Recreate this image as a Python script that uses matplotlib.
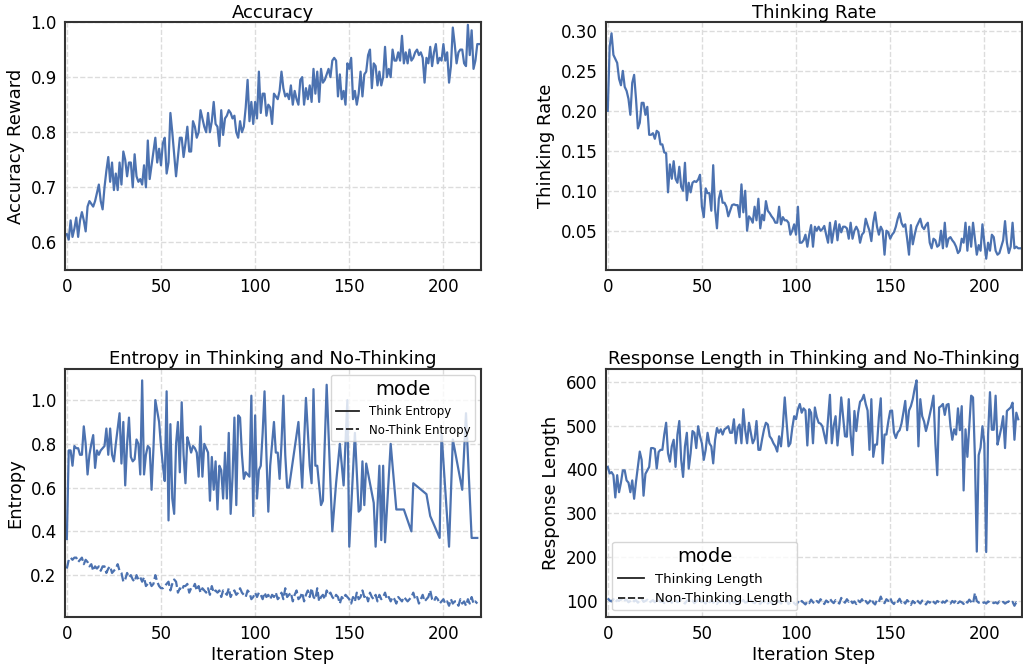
import numpy as np
import matplotlib.pyplot as plt
from matplotlib.lines import Line2D

# ---- data ----
accuracy = [
    0.615, 0.605, 0.64, 0.61, 0.625, 0.645, 0.61, 0.64, 0.655, 0.64,
    0.62, 0.665, 0.675, 0.67, 0.665, 0.675, 0.69, 0.705, 0.675, 0.66,
    0.70, 0.73, 0.755, 0.71, 0.745, 0.695, 0.725, 0.695, 0.745, 0.705,
    0.765, 0.75, 0.72, 0.745, 0.745, 0.70, 0.76, 0.72, 0.71, 0.715,
    0.705, 0.74, 0.70, 0.785, 0.715, 0.74, 0.765, 0.79, 0.745, 0.77,
    0.74, 0.78, 0.79, 0.725, 0.745, 0.835, 0.80, 0.76, 0.72, 0.755,
    0.79, 0.79, 0.755, 0.78, 0.81, 0.765, 0.765, 0.82, 0.81, 0.79,
    0.80, 0.84, 0.825, 0.81, 0.80, 0.835, 0.80, 0.82, 0.855, 0.815,
    0.81, 0.775, 0.84, 0.795, 0.825, 0.83, 0.84, 0.835, 0.825, 0.83,
    0.80, 0.79, 0.82, 0.80, 0.81, 0.845, 0.895, 0.82, 0.855, 0.815,
    0.855, 0.825, 0.91, 0.835, 0.87, 0.87, 0.83, 0.85, 0.845, 0.815,
    0.87, 0.865, 0.86, 0.875, 0.91, 0.88, 0.865, 0.87, 0.86, 0.885,
    0.85, 0.875, 0.86, 0.85, 0.895, 0.90, 0.85, 0.88, 0.86, 0.885,
    0.855, 0.915, 0.87, 0.91, 0.855, 0.915, 0.89, 0.895, 0.905, 0.915,
    0.90, 0.93, 0.935, 0.93, 0.865, 0.905, 0.86, 0.875, 0.85, 0.925,
    0.915, 0.935, 0.86, 0.875, 0.85, 0.87, 0.91, 0.865, 0.905, 0.91,
    0.94, 0.95, 0.88, 0.925, 0.92, 0.885, 0.91, 0.885, 0.90, 0.955,
    0.90, 0.915, 0.90, 0.95, 0.93, 0.93, 0.945, 0.93, 0.975, 0.925,
    0.945, 0.925, 0.95, 0.93, 0.935, 0.945, 0.95, 0.94, 0.945, 0.935,
    0.89, 0.935, 0.925, 0.955, 0.92, 0.945, 0.96, 0.925, 0.935, 0.93,
    0.96, 0.93, 0.945, 0.89, 0.92, 0.99, 0.96, 0.925, 0.945, 0.95,
    0.95, 0.925, 0.92, 0.995, 0.94, 0.985, 0.915, 0.93, 0.96, 0.96,
]

thinking_rate = [
    0.20, 0.28, 0.297, 0.27, 0.265, 0.26, 0.24, 0.232, 0.25, 0.23,
    0.225, 0.215, 0.195, 0.235, 0.245, 0.215, 0.178, 0.185, 0.21, 0.21,
    0.195, 0.205, 0.17, 0.17, 0.172, 0.165, 0.175, 0.173, 0.158, 0.158,
    0.148, 0.147, 0.098, 0.133, 0.115, 0.137, 0.115, 0.11, 0.13, 0.105,
    0.10, 0.135, 0.088, 0.11, 0.098, 0.11, 0.112, 0.111, 0.114, 0.12,
    0.08, 0.067, 0.103, 0.097, 0.097, 0.075, 0.132, 0.077, 0.053, 0.09,
    0.10, 0.085, 0.085, 0.08, 0.068, 0.075, 0.082, 0.083, 0.082, 0.082,
    0.067, 0.108, 0.073, 0.10, 0.05, 0.068, 0.065, 0.06, 0.08, 0.063,
    0.09, 0.053, 0.07, 0.063, 0.087, 0.075, 0.072, 0.068, 0.065, 0.06,
    0.06, 0.08, 0.058, 0.067, 0.063, 0.063, 0.06, 0.045, 0.05, 0.058,
    0.045, 0.08, 0.035, 0.035, 0.038, 0.045, 0.03, 0.045, 0.057, 0.03,
    0.055, 0.05, 0.055, 0.05, 0.052, 0.056, 0.045, 0.035, 0.06, 0.035,
    0.05, 0.062, 0.038, 0.058, 0.048, 0.055, 0.055, 0.053, 0.04, 0.06,
    0.04, 0.05, 0.055, 0.05, 0.035, 0.045, 0.048, 0.065, 0.057, 0.05,
    0.037, 0.06, 0.073, 0.055, 0.045, 0.055, 0.05, 0.02, 0.05, 0.048,
    0.04, 0.045, 0.048, 0.055, 0.065, 0.072, 0.06, 0.055, 0.058, 0.04,
    0.02, 0.057, 0.033, 0.045, 0.055, 0.06, 0.065, 0.055, 0.052, 0.057,
    0.06, 0.035, 0.028, 0.04, 0.038, 0.03, 0.032, 0.05, 0.028, 0.06,
    0.03, 0.04, 0.042, 0.038, 0.035, 0.03, 0.022, 0.025, 0.04, 0.035,
    0.06, 0.025, 0.055, 0.03, 0.06, 0.04, 0.02, 0.032, 0.025, 0.058,
    0.035, 0.015, 0.035, 0.025, 0.045, 0.042, 0.025, 0.02, 0.022, 0.03,
    0.038, 0.062, 0.035, 0.022, 0.03, 0.06, 0.028, 0.03, 0.028, 0.028,
]

# thinking entropy: dense until step 118, then only some steps logged
think_entropy_steps = list(range(118)) + [
    118, 123, 125, 127, 129, 130, 131, 132, 133, 135, 136, 138, 141, 143,
    145, 147, 149, 150, 153, 155, 156, 157, 158, 159, 163, 164, 166, 167,
    168, 169, 172, 175, 179, 183, 184, 191, 193, 198, 199, 203, 205, 210,
    212, 215, 218,
]
think_entropy = [
    0.365, 0.77, 0.77, 0.70, 0.79, 0.78, 0.78, 0.75, 0.75, 0.88,
    0.80, 0.66, 0.75, 0.80, 0.84, 0.69, 0.77, 0.75, 0.77, 0.78,
    0.79, 0.87, 0.75, 0.87, 0.75, 0.72, 0.80, 0.87, 0.94, 0.71,
    0.90, 0.61, 0.80, 0.92, 0.74, 0.72, 0.73, 0.82, 0.80, 0.66,
    1.09, 0.66, 0.75, 0.79, 0.78, 0.59, 0.78, 1.00, 0.95, 0.90,
    0.79, 0.70, 0.63, 1.04, 0.45, 0.89, 0.55, 0.48, 0.80, 0.90,
    0.67, 0.99, 0.75, 0.62, 0.83, 0.80, 0.76, 0.79, 0.78, 0.76,
    0.65, 0.88, 0.65, 0.80, 0.78, 0.76, 0.54, 0.74, 0.59, 0.72,
    0.50, 0.70, 0.68, 0.55, 0.76, 0.55, 0.85, 0.48, 0.65, 0.92,
    0.52, 0.93, 0.92, 0.75, 0.64, 0.67, 0.66, 0.65, 1.02, 0.47,
    0.93, 0.55, 0.68, 0.70, 0.85, 1.04, 0.75, 0.49, 0.70, 0.80,
    0.90, 0.76, 0.76, 0.64, 0.80, 1.02, 0.75, 0.60,
    0.60, 0.90, 0.60, 1.01, 0.70, 0.62, 1.05, 0.70, 0.70, 0.52, 0.54,
    1.07, 0.40, 0.62, 0.80, 0.61, 1.00, 0.33, 0.85, 0.49, 0.50, 0.72,
    0.52, 0.71, 0.53, 0.33, 0.70, 0.36, 0.70, 0.35, 0.80, 0.50, 0.50,
    0.40, 0.62, 0.57, 0.47, 0.37, 0.85, 0.33, 0.82, 0.59, 0.94, 0.37,
    0.37,
]

no_think_entropy = [
    0.23, 0.27, 0.28, 0.27, 0.28, 0.28, 0.26, 0.27, 0.28, 0.25,
    0.27, 0.26, 0.24, 0.25, 0.22, 0.24, 0.23, 0.24, 0.22, 0.24,
    0.24, 0.21, 0.23, 0.24, 0.21, 0.22, 0.23, 0.25, 0.22, 0.21,
    0.17, 0.18, 0.21, 0.19, 0.20, 0.18, 0.17, 0.20, 0.18, 0.19,
    0.17, 0.19, 0.15, 0.16, 0.17, 0.15, 0.16, 0.20, 0.17, 0.15,
    0.14, 0.14, 0.15, 0.16, 0.17, 0.13, 0.16, 0.18, 0.17, 0.12,
    0.14, 0.13, 0.15, 0.15, 0.16, 0.12, 0.14, 0.14, 0.16, 0.13,
    0.15, 0.12, 0.14, 0.13, 0.12, 0.14, 0.11, 0.15, 0.12, 0.13,
    0.12, 0.13, 0.10, 0.13, 0.12, 0.11, 0.14, 0.10, 0.12, 0.13,
    0.11, 0.12, 0.14, 0.12, 0.11, 0.10, 0.13, 0.12, 0.09, 0.10,
    0.12, 0.10, 0.12, 0.11, 0.09, 0.12, 0.10, 0.11, 0.09, 0.11,
    0.10, 0.12, 0.09, 0.10, 0.12, 0.09, 0.14, 0.10, 0.11, 0.12,
    0.08, 0.11, 0.13, 0.09, 0.10, 0.12, 0.08, 0.11, 0.13, 0.10,
    0.14, 0.10, 0.09, 0.14, 0.08, 0.10, 0.11, 0.09, 0.13, 0.11,
    0.12, 0.10, 0.09, 0.11, 0.10, 0.07, 0.10, 0.09, 0.11, 0.10,
    0.09, 0.07, 0.10, 0.08, 0.12, 0.09, 0.10, 0.13, 0.10, 0.11,
    0.08, 0.12, 0.10, 0.09, 0.11, 0.08, 0.11, 0.09, 0.10, 0.12,
    0.09, 0.10, 0.08, 0.10, 0.09, 0.07, 0.10, 0.09, 0.08, 0.10,
    0.09, 0.08, 0.09, 0.10, 0.12, 0.09, 0.10, 0.07, 0.09, 0.11,
    0.08, 0.09, 0.10, 0.13, 0.09, 0.08, 0.10, 0.09, 0.07, 0.08,
    0.09, 0.07, 0.08, 0.06, 0.09, 0.07, 0.08, 0.08, 0.06, 0.09,
    0.07, 0.08, 0.06, 0.09, 0.07, 0.10, 0.07, 0.08, 0.07,
]

thinking_length = [
    406, 391, 394, 387, 336, 387, 348, 370, 398, 398,
    375, 370, 348, 375, 333, 372, 406, 441, 422, 340,
    390, 398, 406, 449, 449, 447, 402, 440, 445, 445,
    480, 507, 437, 418, 453, 468, 406, 480, 511, 422,
    383, 453, 484, 402, 437, 488, 484, 449, 499, 476,
    460, 422, 445, 484, 460, 453, 414, 468, 495, 484,
    492, 480, 492, 495, 499, 484, 484, 515, 460, 495,
    503, 460, 538, 490, 460, 507, 484, 460, 470, 511,
    445, 445, 470, 492, 507, 503, 476, 470, 460, 453,
    441, 476, 453, 500, 565, 507, 453, 460, 495, 522,
    515, 538, 550, 530, 540, 535, 455, 538, 530, 460,
    542, 520, 507, 505, 499, 480, 460, 515, 571, 460,
    500, 522, 455, 500, 565, 520, 476, 475, 561, 480,
    433, 534, 488, 530, 555, 560, 571, 550, 535, 445,
    561, 429, 457, 457, 520, 563, 414, 480, 480, 510,
    534, 535, 485, 472, 485, 490, 505, 530, 557, 490,
    535, 545, 561, 585, 604, 453, 561, 522, 510, 488,
    505, 525, 545, 569, 460, 387, 542, 545, 550, 525,
    548, 550, 500, 468, 492, 480, 540, 490, 545, 352,
    492, 429, 500, 569, 565, 429, 212, 433, 450, 499,
    460, 211, 480, 577, 491, 491, 569, 457, 475, 495,
    522, 449, 534, 538, 542, 553, 468, 530, 515,
]

non_thinking_length = [
    105, 100, 98, 103, 96, 101, 99, 104, 97, 100,
    102, 96, 99, 103, 98, 101, 95, 100, 104, 97,
    99, 102, 95, 98, 101, 96, 100, 103, 97, 99,
    94, 100, 97, 102, 95, 99, 101, 96, 98, 103,
    97, 93, 99, 101, 96, 100, 94, 98, 102, 95,
    99, 97, 93, 100, 96, 101, 95, 98, 92, 99,
    96, 100, 94, 97, 101, 93, 98, 95, 99, 96,
    92, 98, 101, 95, 97, 93, 100, 96, 94, 99,
    95, 92, 98, 96, 100, 93, 97, 95, 91, 98,
    96, 99, 93, 97, 95, 100, 92, 96, 98, 94,
    90, 97, 93, 99, 95, 91, 98, 94, 102, 96,
    93, 99, 95, 103, 97, 92, 100, 96, 104, 98,
    94, 101, 97, 93, 106, 99, 95, 103, 97, 101,
    94, 98, 92, 100, 96, 103, 95, 99, 93, 97,
    104, 95, 91, 101, 97, 109, 98, 94, 103, 99,
    106, 96, 92, 100, 97, 104, 95, 99, 93, 101,
    96, 90, 99, 94, 102, 97, 93, 100, 96, 91,
    98, 95, 101, 97, 93, 99, 96, 92, 98, 95,
    100, 96, 93, 99, 95, 101, 94, 98, 96, 92,
    99, 95, 102, 97, 93, 117, 99, 95, 97, 94,
    96, 93, 98, 95, 97, 94, 96, 93, 98, 95,
    97, 93, 96, 98, 94, 97, 88, 96, 93,
]

blue = "#4c72b0"

plt.rcParams["font.family"] = "DejaVu Sans"
fig, axes = plt.subplots(2, 2, figsize=(10.23, 6.68), dpi=100)
fig.subplots_adjust(left=0.0635, right=0.999, top=0.967, bottom=0.0763,
                    wspace=0.30, hspace=0.40)


def style(ax):
    ax.set_facecolor("white")
    ax.grid(True, color="#dcdcdc", linestyle="--", linewidth=1)
    ax.set_axisbelow(True)
    for sp in ax.spines.values():
        sp.set_color("#333333")
        sp.set_linewidth(1.5)
    ax.tick_params(length=0, labelsize=12, pad=6)
    ax.set_xlim(-1, 220)
    ax.set_xticks([0, 50, 100, 150, 200])


ax = axes[0, 0]
ax.plot(np.arange(len(accuracy)), accuracy, color=blue, lw=1.6)
ax.set_ylim(0.55, 1.0)
ax.set_yticks([0.6, 0.7, 0.8, 0.9, 1.0])
ax.set_title("Accuracy", fontsize=13, pad=3)
ax.set_ylabel("Accuracy Reward", fontsize=13)
style(ax)

ax = axes[0, 1]
ax.plot(np.arange(len(thinking_rate)), thinking_rate, color=blue, lw=1.6)
ax.set_yticks([0.05, 0.10, 0.15, 0.20, 0.25, 0.30])
ax.yaxis.set_major_formatter(plt.FormatStrFormatter("%.2f"))
ax.set_title("Thinking Rate", fontsize=13, pad=3)
ax.set_ylabel("Thinking Rate", fontsize=13)
style(ax)

legend_title_size = 14

ax = axes[1, 0]
ax.plot(think_entropy_steps, think_entropy, color=blue, lw=1.6)
ax.plot(np.arange(len(no_think_entropy)), no_think_entropy, color=blue,
        lw=1.6, dashes=(4, 1.5))
ax.set_yticks([0.2, 0.4, 0.6, 0.8, 1.0])
ax.set_title("Entropy in Thinking and No-Thinking", fontsize=13, pad=4)
ax.set_ylabel("Entropy", fontsize=13)
ax.set_xlabel("Iteration Step", fontsize=13, labelpad=2)
style(ax)
handles = [Line2D([], [], color="#222222", lw=1.3),
           Line2D([], [], color="#222222", lw=1.3, dashes=(4, 1.5))]
ax.legend(handles, ["Think Entropy", "No-Think Entropy"], title="mode",
          loc="upper right", fontsize=8.5, title_fontsize=legend_title_size,
          framealpha=0.8, edgecolor="#cccccc")

ax = axes[1, 1]
ax.plot(np.arange(len(thinking_length)), thinking_length, color=blue, lw=1.6)
ax.plot(np.arange(len(non_thinking_length)), non_thinking_length, color=blue,
        lw=1.6, dashes=(4, 1.5))
ax.set_yticks([100, 200, 300, 400, 500, 600])
ax.set_title("Response Length in Thinking and No-Thinking", fontsize=13, pad=4)
ax.set_ylabel("Response Length", fontsize=13)
ax.set_xlabel("Iteration Step", fontsize=13, labelpad=2)
style(ax)
handles = [Line2D([], [], color="#222222", lw=1.3),
           Line2D([], [], color="#222222", lw=1.3, dashes=(4, 1.5))]
ax.legend(handles, ["Thinking Length", "Non-Thinking Length"], title="mode",
          loc="lower left", fontsize=9.5, title_fontsize=legend_title_size,
          framealpha=0.8, edgecolor="#cccccc")

fig.savefig("out.png", dpi=100)
